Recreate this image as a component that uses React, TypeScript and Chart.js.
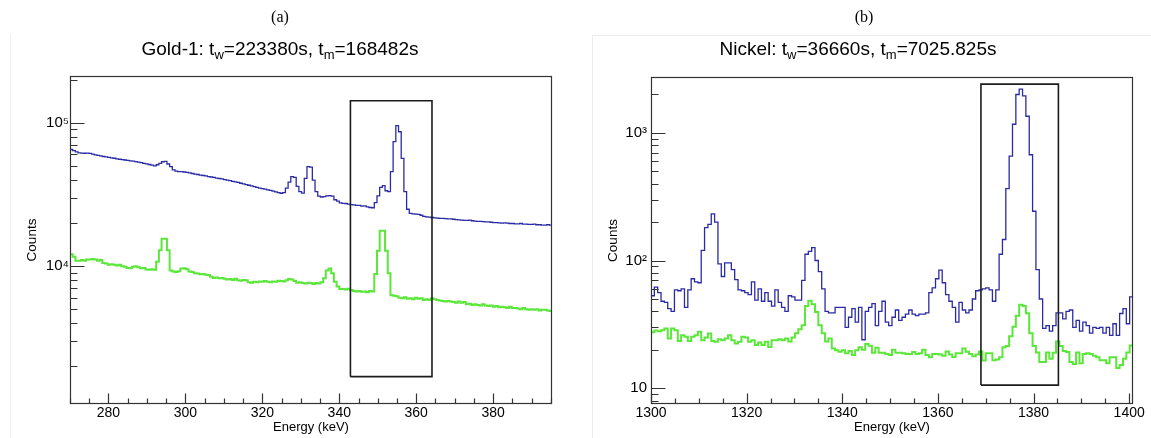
import React, { useEffect, useRef } from 'react';
import { Chart, registerables } from 'chart.js';

Chart.register(...registerables);

const FONT = '"Liberation Sans", Arial, Helvetica, sans-serif';
const BLUE = '#2b2ba6';
const GREEN = '#5be63a';
const BIN_WIDTH = 0.7;

// ---------- Panel (a): Gold-1 ----------
const goldStart = 270;
const goldBlue = [
  65000, 63800, 62500, 61600, 61300, 61200, 61300, 61000, 60300, 59700,
  59100, 58600, 58100, 57700, 57300, 56900, 56500, 56000, 55600, 55300,
  54900, 54600, 54200, 53900, 53500, 53100, 52600, 52100, 51600, 51100,
  50500, 50000, 50900, 52100, 53400, 53800, 51500, 49300, 46800, 46000,
  45600, 45500, 45300, 45000, 44600, 44200, 43800, 43500, 43100, 42800,
  42500, 42100, 41800, 41500, 41100, 40800, 40500, 40100, 39800, 39400,
  39000, 38700, 38300, 37800, 37400, 37000, 36600, 36200, 35800, 35400,
  35000, 34700, 34400, 34000, 33700, 33300, 32900, 32500, 32200, 32500,
  35000, 38500, 42000, 41500, 36000, 33000, 32300, 40900, 49300, 49000,
  39800, 33000, 30700, 30300, 30500, 30900, 31000, 30700, 29000, 28400,
  27600, 27400, 27300, 27000, 26800, 26700, 26500, 26500, 26200, 26300,
  25900, 25600, 25500, 27700, 30900, 35400, 36400, 33500, 33000, 45500,
  73700, 95300, 86500, 56400, 33000, 24900, 23300, 23100, 23000, 22900,
  22600, 22200, 22000, 21900, 21800, 21700, 21600, 21500, 21500, 21400,
  21300, 21300, 21200, 21100, 21000, 20900, 20800, 20800, 20900, 20700,
  20600, 20500, 20500, 20400, 20300, 20300, 20200, 20100, 20100, 20000,
  19900, 20000, 19900, 19800, 19800, 19700, 19700, 19800, 19600, 19600,
  19500, 19500, 19600, 19400, 19400, 19300, 19300, 19400, 19300,
];
const goldGreen = [
  12100, 11600, 10900, 10900, 11000, 10900, 11100, 11100, 11200, 11100,
  10900, 11000, 10500, 10400, 10200, 10300, 10200, 10100, 10200, 9950,
  9900, 9700, 9650, 9900, 9950, 9800, 9650, 9700, 9450, 9400,
  9500, 9400, 10700, 12900, 15500, 15500, 12900, 9300, 9150, 9100,
  9200, 9600, 9650, 9500, 9150, 9100, 8900, 8850, 8750, 8800,
  8700, 8650, 8400, 8250, 8300, 8200, 8250, 8150, 8050, 8100,
  8000, 8150, 7950, 7900, 8000, 7950, 7700, 7650, 7750, 7700,
  7800, 7750, 7850, 7750, 7700, 7800, 7750, 7900, 7850, 7800,
  7950, 8100, 8050, 7850, 7650, 7700, 7600, 7550, 7650, 7600,
  7500, 7600, 7550, 7700, 8200, 9300, 9600, 8900, 7750, 7200,
  6900, 6900, 6850, 6950, 6800, 6700, 6650, 6700, 6600, 6650,
  6550, 6700, 6650, 8800, 12800, 17600, 17600, 12800, 8900, 6250,
  6200, 6150, 6000, 5950, 6050, 5900, 5950, 5850, 6000, 5900,
  5950, 5800, 5850, 5800, 5950, 5850, 5800, 5750, 5700, 5650,
  5700, 5650, 5600, 5550, 5650, 5550, 5600, 5400, 5450, 5350,
  5400, 5350, 5300, 5400, 5300, 5250, 5300, 5200, 5250, 5150,
  5200, 5150, 5100, 5200, 5100, 5100, 5050, 5000, 5100, 5000,
  4950, 5000, 4950, 5000, 4900, 4950, 4950, 4900, 4850,
];
const goldXTicks = [280, 300, 320, 340, 360, 380];
const goldYTicks = [10000, 100000];
const goldYLabels = ['10\u2074', '10\u2075'];
const goldYRange = [1089, 211800];
const goldBox = [342.9, 364.1, 1690, 142400]; // x0, x1, y0, y1

// ---------- Panel (b): Nickel ----------
const nickelStart = 1300;
const nickelBlue = [
  53, 62, 56, 48, 47, 42, 40, 59, 58, 60,
  43, 59, 72, 68, 67, 120, 181, 192, 232, 200,
  94, 75, 96, 96, 85, 71, 59, 58, 56, 54,
  68, 49, 60, 48, 56, 48, 44, 59, 47, 43,
  40, 53, 52, 49, 49, 70, 112, 118, 126, 100,
  82, 60, 40, 39, 39, 43, 43, 43, 30, 36,
  42, 33, 43, 24, 40, 43, 46, 31, 40, 48,
  33, 31, 36, 41, 34, 36, 38, 41, 38, 37,
  38, 38, 39, 56, 61, 72, 84, 67, 54, 48,
  43, 33, 47, 41, 39, 41, 50, 58, 59, 60,
  61, 59, 48, 59, 112, 146, 365, 655, 1165, 1990,
  2190, 1940, 1345, 672, 243, 85, 50, 29.5, 31, 28,
  31, 39, 39, 35, 40, 41, 30, 34, 28, 33,
  31, 27, 30, 29.5, 30, 27, 30, 26, 32, 26,
  38.5, 42, 32, 52,
];
const nickelGreen = [
  27.5, 28.3, 28, 28.5, 29.4, 24.5, 29.4, 28.5, 23.5, 26,
  25.3, 23.5, 25.3, 26, 27.7, 23.8, 25, 26.9, 23.5, 23.1,
  24.2, 23.8, 24.5, 26, 23.8, 22.4, 23.1, 25.3, 25, 23.1,
  23.8, 21.8, 22.8, 21.8, 23.1, 21.1, 23.8, 23.8, 24.2, 23.8,
  24.5, 23.2, 25, 27, 29, 31.2, 44, 48.5, 45.5, 39.5,
  31.2, 27, 23.2, 24.5, 20.5, 19.9, 19.3, 19.9, 18.8, 19.6,
  18.2, 19.9, 21, 20, 22.2, 21.5, 19, 20.8, 19, 19,
  18.6, 18.2, 20, 19, 19, 18.8, 18.6, 18.6, 19.2, 18.6,
  18.8, 20, 18.2, 17.5, 18.6, 18.6, 18.4, 18, 19.4, 18.4,
  17.6, 18.8, 18.8, 20.5, 19.3, 18.6, 17.8, 18.4, 19.4, 16.5,
  18.8, 18.8, 16.6, 16.8, 17.5, 21, 21.4, 25.5, 30.3, 37,
  45, 44, 38.6, 27, 21.4, 19.1, 16.1, 16.1, 19.1, 17,
  19, 23.2, 21.4, 19.6, 19.2, 16.1, 15.5, 19.1, 15.7, 18.6,
  18.8, 18.6, 18, 17.5, 16.6, 16.6, 15.7, 17.5, 17.5, 14.4,
  15.2, 17, 19.1, 21.6,
];
const nickelXTicks = [1300, 1320, 1340, 1360, 1380, 1400];
const nickelYTicks = [10, 100, 1000];
const nickelYLabels = ['10', '10\u00b2', '10\u00b3'];
const nickelYRange = [7.54, 2728];
const nickelBox = [1369.0, 1385.2, 10.6, 2400];

// ---------- helpers ----------
function histPoints(start: number, values: number[]) {
  const pts = values.map((v, i) => ({ x: start + i * BIN_WIDTH, y: v }));
  pts.push({ x: start + values.length * BIN_WIDTH, y: values[values.length - 1] });
  return pts;
}

function boxPoints(b: number[]) {
  const [x0, x1, y0, y1] = b;
  return [
    { x: x0, y: y0 },
    { x: x0, y: y1 },
    { x: x1, y: y1 },
    { x: x1, y: y0 },
    { x: x0, y: y0 },
  ];
}

const rootFrame = {
  id: 'rootFrame',
  afterDatasetsDraw(chart: any, _args: any, opts: any) {
    const { ctx, chartArea: a } = chart;
    const xs = chart.scales.x;
    const ys = chart.scales.y;
    ctx.save();
    ctx.strokeStyle = '#333';
    ctx.lineWidth = 1.2;
    const L = Math.round(a.left) + 0.5;
    const R = Math.round(a.right) - 0.5;
    const T = Math.round(a.top) + 0.5;
    const B = Math.round(a.bottom) - 0.5;
    ctx.strokeRect(L, T, R - L, B - T);
    ctx.beginPath();
    const step = opts.xMinor;
    for (let v = Math.ceil(xs.min / step) * step; v <= xs.max + 1e-9; v += step) {
      const px = Math.round(xs.getPixelForValue(v)) + 0.5;
      const major = Math.abs(v % opts.xMajor) < 1e-6;
      ctx.moveTo(px, B);
      ctx.lineTo(px, B - (major ? 10 : 5));
    }
    const d0 = Math.floor(Math.log10(ys.min));
    const d1 = Math.ceil(Math.log10(ys.max));
    for (let d = d0; d <= d1; d++) {
      for (let m = 1; m <= 9; m++) {
        const v = m * Math.pow(10, d);
        if (v < ys.min || v > ys.max) continue;
        const py = Math.round(ys.getPixelForValue(v)) + 0.5;
        ctx.moveTo(L, py);
        ctx.lineTo(L + (m === 1 ? 14 : 7), py);
      }
    }
    ctx.stroke();
    ctx.restore();
  },
};

interface PanelSpec {
  start: number;
  blue: number[];
  green: number[];
  xTicks: number[];
  yTicks: number[];
  yLabels: string[];
  yRange: number[];
  box: number[];
  top: number;
  padRight: number;
  yWidth: number;
  yPad: number;
  yTitlePad: number;
}

function buildConfig(p: PanelSpec): any {
  const n = p.blue.length;
  return {
    type: 'line',
    data: {
      datasets: [
        {
          data: boxPoints(p.box),
          borderColor: '#1c1c1c',
          borderWidth: 1.6,
          pointRadius: 0,
          fill: false,
          tension: 0,
        },
        {
          data: histPoints(p.start, p.blue),
          stepped: 'before',
          borderColor: BLUE,
          borderWidth: 1.3,
          pointRadius: 0,
          fill: false,
        },
        {
          data: histPoints(p.start, p.green),
          stepped: 'before',
          borderColor: GREEN,
          borderWidth: 2,
          pointRadius: 0,
          fill: false,
        },
      ],
    },
    options: {
      responsive: false,
      animation: false,
      devicePixelRatio: 1,
      events: [],
      layout: { padding: { left: 0, top: p.top, right: p.padRight, bottom: 0 } },
      plugins: {
        legend: { display: false },
        tooltip: { enabled: false },
        rootFrame: { xMinor: 5, xMajor: 20 },
      },
      scales: {
        x: {
          type: 'linear',
          min: p.start,
          max: p.start + n * BIN_WIDTH,
          grid: { display: false, drawTicks: false },
          border: { display: false },
          afterFit: (s: any) => {
            s.height = 34;
          },
          afterBuildTicks: (s: any) => {
            s.ticks = p.xTicks.map((v) => ({ value: v }));
          },
          ticks: {
            autoSkip: false,
            maxRotation: 0,
            padding: 1,
            color: '#000',
            font: { family: FONT, size: 14 },
            callback: (v: any) => String(v),
          },
          title: {
            display: true,
            text: 'Energy (keV)',
            color: '#000',
            font: { family: FONT, size: 13 },
            padding: { top: 0, bottom: 3 },
          },
        },
        y: {
          type: 'logarithmic',
          min: p.yRange[0],
          max: p.yRange[1],
          grid: { display: false, drawTicks: false },
          border: { display: false },
          afterFit: (s: any) => {
            s.width = p.yWidth;
          },
          afterBuildTicks: (s: any) => {
            s.ticks = p.yTicks.map((v) => ({ value: v }));
          },
          ticks: {
            autoSkip: false,
            padding: p.yPad,
            color: '#000',
            font: { family: FONT, size: 15 },
            callback: (v: any) => {
              const i = p.yTicks.findIndex((t) => Math.abs(t - v) / t < 1e-6);
              return i >= 0 ? p.yLabels[i] : '';
            },
          },
          title: {
            display: true,
            text: 'Counts',
            color: '#000',
            font: { family: FONT, size: 13.5 },
            padding: { top: p.yTitlePad, bottom: 0 },
          },
        },
      },
    },
    plugins: [rootFrame],
  };
}

const goldSpec: PanelSpec = {
  start: goldStart,
  blue: goldBlue,
  green: goldGreen,
  xTicks: goldXTicks,
  yTicks: goldYTicks,
  yLabels: goldYLabels,
  yRange: goldYRange,
  box: goldBox,
  top: 76,
  padRight: 23,
  yWidth: 70,
  yPad: 1,
  yTitlePad: 24,
};

const nickelSpec: PanelSpec = {
  start: nickelStart,
  blue: nickelBlue,
  green: nickelGreen,
  xTicks: nickelXTicks,
  yTicks: nickelYTicks,
  yLabels: nickelYLabels,
  yRange: nickelYRange,
  box: nickelBox,
  top: 77,
  padRight: 18,
  yWidth: 76,
  yPad: 4,
  yTitlePad: 30,
};

const sub: React.CSSProperties = { fontSize: 13, verticalAlign: '-4px' };

export default function App() {
  const refA = useRef<HTMLCanvasElement>(null);
  const refB = useRef<HTMLCanvasElement>(null);

  useEffect(() => {
    const ca = new Chart(refA.current as HTMLCanvasElement, buildConfig(goldSpec));
    const cb = new Chart(refB.current as HTMLCanvasElement, buildConfig(nickelSpec));
    return () => {
      ca.destroy();
      cb.destroy();
    };
  }, []);

  const titleStyle: React.CSSProperties = {
    position: 'absolute',
    top: 38,
    width: 400,
    textAlign: 'center',
    fontFamily: FONT,
    fontSize: 19,
    lineHeight: '22px',
    color: '#000',
    whiteSpace: 'nowrap',
  };
  const letterStyle: React.CSSProperties = {
    position: 'absolute',
    top: 7,
    width: 100,
    textAlign: 'center',
    fontFamily: '"Liberation Serif", "Times New Roman", serif',
    fontSize: 16,
    lineHeight: '20px',
    color: '#000',
  };

  return (
    <div
      style={{
        position: 'absolute',
        left: 0,
        top: 0,
        width: 1151,
        height: 438,
        background: '#fff',
        overflow: 'hidden',
      }}
    >
      <div style={{ position: 'absolute', left: 10, top: 34, width: 1, height: 404, background: '#efefef' }} />
      <div style={{ position: 'absolute', left: 592, top: 35, width: 1, height: 403, background: '#ececec' }} />
      <div style={{ position: 'absolute', left: 592, top: 35, width: 559, height: 1, background: '#ececec' }} />
      <canvas ref={refA} width={575} height={438} style={{ position: 'absolute', left: 0, top: 0 }} />
      <canvas ref={refB} width={576} height={438} style={{ position: 'absolute', left: 575, top: 0 }} />
      <div style={{ ...letterStyle, left: 230 }}>(a)</div>
      <div style={{ ...letterStyle, left: 814 }}>(b)</div>
      <div style={{ ...titleStyle, left: 80 }}>
        Gold-1: t<span style={sub}>w</span>=223380s, t<span style={sub}>m</span>=168482s
      </div>
      <div style={{ ...titleStyle, left: 658 }}>
        Nickel: t<span style={sub}>w</span>=36660s, t<span style={sub}>m</span>=7025.825s
      </div>
    </div>
  );
}
